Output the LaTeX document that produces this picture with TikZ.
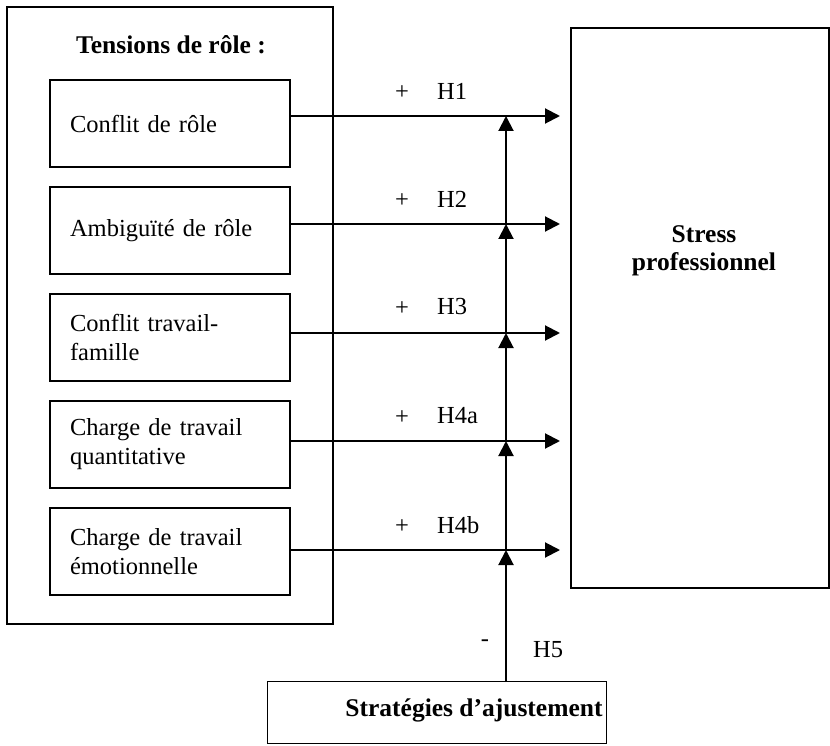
\documentclass[tikz,border=0pt]{standalone}
\usepackage{fontspec}
\setmainfont{Liberation Serif}
\usetikzlibrary{positioning,arrows.meta}
\def\bigfont{\fontsize{24.5}{29}\selectfont}
\def\grasfont{\fontsize{25.5}{28}\selectfont\bfseries}
\tikzset{
  cadre/.style={draw,line width=1.6pt},
  tensbox/.style={cadre,minimum width=240pt,minimum height=87pt,text width=200pt,inner xsep=20pt,align=left},
  effet/.style={line width=2pt,-{Triangle[length=15pt,width=15pt]}},
  hyp/.style={anchor=west,inner sep=0pt}
}

\begin{document}
\begin{tikzpicture}[x=1pt,y=-1pt,font=\bigfont]
 \useasboundingbox (0,0) rectangle (830,746);
 % bloc des tensions de role
 \node[cadre,minimum width=326pt,minimum height=617pt] (tensions) at (170,315.5) {};
 \node[font=\grasfont] (titre) at (171,45) {Tensions de rôle :};
 \node[tensbox] (conflit) at (170,123.5) {Conflit de rôle};
 \node[tensbox] (ambig) at (170,230.5) {Ambiguïté de rôle};
 \node[tensbox] (famille) at (170,337.5) {Conflit travail-\\famille};
 \node[tensbox] (quanti) at (170,444.5) {Charge de travail\\quantitative};
 \node[tensbox] (emo) at (170,551.5) {Charge de travail\\émotionnelle};
 % stress et strategies
 \node[cadre,minimum width=258pt,minimum height=560pt] (stress) at (700,308) {};
 \node[font=\grasfont,align=center] (stresstxt) at (704,251) {Stress\\professionnel};
 \node[cadre,minimum width=339pt,minimum height=62pt] (strat) at (437,712.5) {};
 \node[font=\grasfont] (strattxt) at (474,710) {Stratégies d’ajustement};
 % pointes et croisements
 \coordinate (t1) at (560,116);
 \coordinate (t2) at (560,224);
 \coordinate (t3) at (560,333);
 \coordinate (t4) at (560,441);
 \coordinate (t5) at (560,550);
 \coordinate (pied) at (506,682);
 \coordinate (x1) at (t1 -| pied);
 \coordinate (x2) at (t2 -| pied);
 \coordinate (x3) at (t3 -| pied);
 \coordinate (x4) at (t4 -| pied);
 \coordinate (x5) at (t5 -| pied);
 \draw[effet] (pied) -- (x5);
 \draw[effet] (x5) -- (x4);
 \draw[effet] (x4) -- (x3);
 \draw[effet] (x3) -- (x2);
 \draw[effet] (x2) -- (x1);
 \draw[effet] (conflit.east |- t1) -- (t1);
 \draw[effet] (ambig.east |- t2) -- (t2);
 \draw[effet] (famille.east |- t3) -- (t3);
 \draw[effet] (quanti.east |- t4) -- (t4);
 \draw[effet] (emo.east |- t5) -- (t5);
 % signes et hypotheses
 \node (p1) at (402,93) {+};
 \node[hyp] (h1) at (437,91) {H1};
 \node (p2) at (402,201) {+};
 \node[hyp] (h2) at (437,199) {H2};
 \node (p3) at (402,309) {+};
 \node[hyp] (h3) at (437,307) {H3};
 \node (p4) at (402,418) {+};
 \node[hyp] (h4a) at (437,416) {H4a};
 \node (p5) at (402,527) {+};
 \node[hyp] (h4b) at (437,525) {H4b};
 \node (m5) at (485,643) {-};
 \node[hyp] (h5) at (533,650) {H5};
\end{tikzpicture}
\end{document}
